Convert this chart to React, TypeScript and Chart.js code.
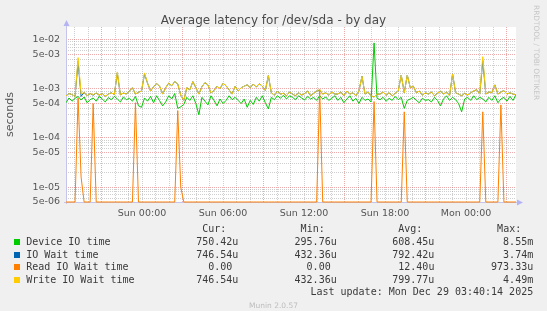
import React, { useEffect, useRef } from 'react';
import { Chart, registerables } from 'chart.js';

Chart.register(...registerables);

const TITLE = 'Average latency for /dev/sda - by day';
const Y_AXIS_TITLE = 'seconds';
const Y_MIN = 5e-6;
const Y_MAX = 1.8e-2;
// hours relative to Mon 00:00
const X_START_H = -29.63;
const X_END_H = 3.7;

const xTickHours = [-24, -18, -12, -6, 0];
const xTickLabels = ['Sun 00:00', 'Sun 06:00', 'Sun 12:00', 'Sun 18:00', 'Mon 00:00'];
const yLabelMantissas = [1, 5];

// values in microseconds
const deviceIOTime = [
  520, 650, 560, 640, 700, 590, 680, 520, 600, 650,
  560, 700, 620, 540, 660, 600, 700, 620, 540, 680,
  600, 640, 560, 700, 450, 420, 650, 560, 700, 520,
  720, 570, 450, 540, 720, 620, 800, 400, 430, 480,
  670, 580, 720, 500, 296, 670, 560, 470, 720, 580,
  450, 620, 500, 580, 720, 600, 670, 580, 500, 620,
  420, 580, 480, 670, 560, 720, 520, 390, 670, 600,
  720, 640, 740, 620, 720, 670, 600, 720, 650, 590,
  700, 620, 670, 580, 720, 620, 680, 580, 640, 720,
  580, 670, 520, 620, 720, 560, 640, 500, 670, 580,
  620, 540, 8550, 640, 600, 670, 560, 640, 580, 700,
  600, 670, 400, 580, 620, 670, 580, 520, 640, 580,
  600, 540, 670, 580, 450, 620, 720, 580, 670, 600,
  500, 340, 620, 670, 580, 720, 600, 670, 620, 540,
  670, 580, 720, 520, 620, 670, 560, 700, 580, 750,
];

const ioWaitTime = [
  720, 800, 760, 700, 3600, 700, 850, 720, 800, 740,
  820, 740, 800, 700, 780, 830, 760, 2100, 750, 820,
  780, 900, 1050, 780, 850, 900, 2000, 1300, 900, 1100,
  1270, 1130, 780, 1050, 1300, 1150, 1400, 1250, 740, 580,
  1050, 950, 1400, 1050, 780, 1100, 1330, 1200, 820, 920,
  1130, 1000, 1300, 1150, 950, 780, 1130, 900, 1050, 1130,
  1200, 1050, 1250, 1080, 1270, 1130, 920, 1850, 830, 740,
  900, 780, 810, 720, 860, 780, 720, 830, 740, 800,
  900, 720, 810, 900, 940, 780, 830, 740, 860, 780,
  780, 860, 720, 900, 780, 830, 720, 900, 1800, 780,
  860, 720, 680, 780, 780, 860, 740, 830, 720, 810,
  900, 1900, 830, 1900, 1050, 1130, 830, 900, 740, 830,
  780, 860, 720, 810, 900, 780, 860, 720, 2000, 830,
  780, 720, 810, 740, 830, 900, 960, 780, 3740, 780,
  860, 830, 1200, 780, 860, 920, 780, 830, 780, 747,
];

const readIOWaitTime = [
  0, 0, 0, 0, 650, 16, 0, 0, 0, 500,
  0, 0, 0, 0, 0, 0, 0, 0, 0, 0,
  0, 0, 0, 520, 0, 0, 0, 0, 0, 0,
  0, 0, 0, 0, 0, 0, 0, 360, 10, 0,
  0, 0, 0, 0, 0, 0, 0, 0, 0, 0,
  0, 0, 0, 0, 0, 0, 0, 0, 0, 0,
  0, 0, 0, 0, 0, 0, 0, 0, 0, 0,
  0, 0, 0, 0, 0, 0, 0, 0, 0, 0,
  0, 0, 0, 0, 973.33, 0, 0, 0, 0, 0,
  0, 0, 0, 0, 0, 0, 0, 0, 0, 0,
  0, 0, 550, 0, 0, 0, 0, 0, 0, 0,
  0, 0, 340, 0, 0, 0, 0, 0, 0, 0,
  0, 0, 0, 0, 0, 0, 0, 0, 0, 0,
  0, 0, 0, 0, 0, 0, 0, 0, 340, 0,
  0, 0, 0, 0, 470, 0, 0, 0, 0, 0,
];

const writeIOWaitTime = [
  720, 800, 760, 700, 4300, 780, 850, 720, 800, 760,
  820, 740, 800, 700, 780, 830, 760, 2200, 750, 820,
  780, 900, 1050, 780, 850, 900, 2100, 1300, 900, 1100,
  1270, 1130, 780, 1050, 1300, 1150, 1400, 1250, 740, 580,
  1050, 950, 1400, 1050, 780, 1100, 1330, 1200, 820, 920,
  1130, 1000, 1300, 1150, 950, 780, 1130, 900, 1050, 1130,
  1200, 1050, 1250, 1080, 1270, 1130, 920, 1850, 830, 740,
  900, 780, 810, 720, 860, 780, 720, 830, 740, 800,
  900, 720, 810, 900, 960, 780, 830, 740, 860, 780,
  780, 860, 720, 900, 780, 830, 720, 900, 1800, 780,
  860, 720, 680, 780, 780, 860, 740, 830, 720, 810,
  900, 1900, 830, 1900, 1050, 1130, 830, 900, 740, 830,
  780, 860, 720, 810, 900, 780, 860, 720, 2000, 830,
  780, 720, 810, 740, 830, 900, 960, 780, 4490, 780,
  860, 830, 1200, 780, 860, 920, 780, 830, 780, 747,
];

const seriesNames = ['Device IO time', 'IO Wait time', 'Read IO Wait time', 'Write IO Wait time'];
const seriesColors = ['#00cc00', '#0066b3', '#ff8000', '#ffcc00'];
const curValues = ['750.42u', '746.54u', '0.00 ', '746.54u'];
const minValues = ['295.76u', '432.36u', '0.00 ', '432.36u'];
const avgValues = ['608.45u', '792.42u', '12.40u', '799.77u'];
const maxValues = ['8.55m', '3.74m', '973.33u', '4.49m'];
const columnHeaders = ['Cur:', 'Min:', 'Avg:', 'Max:'];
const LAST_UPDATE = 'Last update: Mon Dec 29 03:40:14 2025';
const FOOTER = 'Munin 2.0.57';
const WATERMARK = 'RRDTOOL / TOBI OETIKER';

const MAJOR_GRID = 'rgba(215,70,70,0.45)';
const MINOR_GRID = 'rgba(140,140,140,0.42)';
const AXIS_COLOR = '#c4c4ec';
const ARROW_COLOR = '#b4b4f4';

function mantissaOf(v: number) {
  const e = Math.floor(Math.log10(v) + 1e-9);
  return { m: Math.round(v / Math.pow(10, e)), e };
}

const rrdPlugin = {
  id: 'rrdLook',
  beforeDraw(chart: any) {
    const { ctx, chartArea } = chart;
    const { left, top, right, bottom } = chartArea;
    ctx.save();
    ctx.fillStyle = '#ffffff';
    ctx.fillRect(left, top, right - left, bottom - top);
    ctx.restore();
  },
  beforeDatasetsDraw(chart: any) {
    const { ctx, chartArea } = chart;
    const { left, top, right, bottom } = chartArea;
    ctx.save();
    ctx.strokeStyle = AXIS_COLOR;
    ctx.lineWidth = 1;
    ctx.beginPath();
    ctx.moveTo(left + 0.5, top - 2);
    ctx.lineTo(left + 0.5, bottom + 2);
    ctx.moveTo(left - 2, bottom + 0.5);
    ctx.lineTo(right + 2, bottom + 0.5);
    ctx.stroke();
    ctx.restore();
  },
  afterDraw(chart: any) {
    const { ctx, chartArea } = chart;
    const { left, top, right, bottom } = chartArea;
    ctx.save();
    ctx.fillStyle = ARROW_COLOR;
    ctx.beginPath();
    ctx.moveTo(left + 0.5, top - 7);
    ctx.lineTo(left + 3.5, top - 1);
    ctx.lineTo(left - 2.5, top - 1);
    ctx.closePath();
    ctx.fill();
    ctx.beginPath();
    ctx.moveTo(right + 7, bottom + 0.5);
    ctx.lineTo(right + 1, bottom + 3.5);
    ctx.lineTo(right + 1, bottom - 2.5);
    ctx.closePath();
    ctx.fill();
    ctx.restore();
  },
};

export default function App() {
  const ref = useRef<HTMLCanvasElement>(null);

  useEffect(() => {
    const canvas = ref.current;
    if (!canvas) return;
    const n = deviceIOTime.length;
    const hours = deviceIOTime.map((_, i) => X_START_H + (i * (X_END_H - X_START_H)) / (n - 1));
    const toPts = (arr: number[]) =>
      arr.map((v, i) => ({ x: hours[i], y: v === 0 ? Y_MIN : v * 1e-6 }));
    const seriesData = [deviceIOTime, ioWaitTime, readIOWaitTime, writeIOWaitTime];
    const orders = [4, 3, 2, 1];

    const chart = new Chart(canvas, {
      type: 'line',
      data: {
        datasets: seriesData.map((arr, k) => ({
          label: seriesNames[k],
          data: toPts(arr),
          borderColor: seriesColors[k],
          backgroundColor: seriesColors[k],
          borderWidth: 1,
          pointRadius: 0,
          tension: 0,
          fill: false,
          order: orders[k],
          clip: { left: 0, top: 0, right: 0, bottom: 2 },
        })),
      },
      options: {
        responsive: false,
        animation: false,
        events: [],
        devicePixelRatio: 1,
        layout: { padding: { top: 27, right: 31, left: 0, bottom: 0 } },
        plugins: {
          legend: { display: false },
          tooltip: { enabled: false },
          title: { display: false },
        },
        scales: {
          x: {
            type: 'linear',
            min: X_START_H,
            max: X_END_H,
            afterBuildTicks: (scale: any) => {
              const t = [];
              for (let h = Math.ceil(X_START_H); h <= Math.floor(X_END_H); h++) t.push({ value: h });
              scale.ticks = t;
            },
            afterFit: (scale: any) => {
              scale.height = 109;
            },
            ticks: {
              autoSkip: false,
              maxRotation: 0,
              padding: 6,
              color: '#555',
              font: { family: 'DejaVu Sans', size: 9.5 },
              callback: (value: any) => {
                const idx = xTickHours.indexOf(Number(value));
                return idx >= 0 ? xTickLabels[idx] : '';
              },
            },
            grid: {
              drawTicks: false,
              lineWidth: 1,
              color: (ctx: any) => {
                const h = ctx.tick ? Math.round(ctx.tick.value) : 0;
                return (((h % 6) + 6) % 6) === 3 ? MAJOR_GRID : MINOR_GRID;
              },
            },
            border: { display: false, dash: [1, 1] },
          },
          y: {
            type: 'logarithmic',
            min: Y_MIN,
            max: Y_MAX,
            afterBuildTicks: (scale: any) => {
              const t = [];
              for (let e = -6; e <= -2; e++) {
                for (let m = 1; m <= 9; m++) {
                  const v = m * Math.pow(10, e);
                  if (v >= Y_MIN * 0.999 && v <= Y_MAX) t.push({ value: v });
                }
              }
              scale.ticks = t;
            },
            afterFit: (scale: any) => {
              scale.width = 66;
            },
            ticks: {
              autoSkip: false,
              padding: 6,
              color: '#555',
              font: { family: 'DejaVu Sans', size: 9.5 },
              callback: (value: any) => {
                const { m, e } = mantissaOf(Number(value));
                if (!yLabelMantissas.includes(m)) return '';
                return `${m}e-${String(-e).padStart(2, '0')}`;
              },
            },
            grid: {
              drawTicks: false,
              lineWidth: 1,
              color: (ctx: any) => {
                if (!ctx.tick) return MINOR_GRID;
                const { m } = mantissaOf(ctx.tick.value);
                return yLabelMantissas.includes(m) ? MAJOR_GRID : MINOR_GRID;
              },
            },
            border: { display: false, dash: [1, 1] },
            title: {
              display: true,
              text: Y_AXIS_TITLE,
              color: '#555',
              font: { family: 'DejaVu Sans', size: 11 },
              padding: { top: 4, bottom: 0 },
            },
          },
        },
      },
      plugins: [rrdPlugin],
    } as any);
    return () => chart.destroy();
  }, []);

  const mono = '10px "DejaVu Sans Mono"';
  const rowTops = [236.1, 248.7, 261.2, 273.8];
  const colRights = [238.3, 336.7, 434.4, 533.2];
  const colValues = [curValues, minValues, avgValues, maxValues];

  return (
    <div
      style={{
        position: 'absolute',
        left: 0,
        top: 0,
        width: 547,
        height: 311,
        background: '#f0f0f0',
        overflow: 'hidden',
        color: '#3a3a3a',
      }}
    >
      <canvas ref={ref} width={547} height={311} style={{ position: 'absolute', left: 0, top: 0 }} />
      <div
        style={{
          position: 'absolute',
          left: 0,
          width: 547,
          top: 13,
          textAlign: 'center',
          font: '12px "DejaVu Sans"',
          lineHeight: '14px',
          color: '#4a4a4a',
          whiteSpace: 'nowrap',
        }}
      >
        {TITLE}
      </div>
      <div
        style={{
          position: 'absolute',
          left: 532,
          top: 5,
          writingMode: 'vertical-rl',
          font: '7.4px "DejaVu Sans"',
          lineHeight: '8px',
          color: '#c6c6c6',
          whiteSpace: 'nowrap',
        }}
      >
        {WATERMARK}
      </div>
      {columnHeaders.map((h, c) => (
        <div
          key={'h' + c}
          style={{
            position: 'absolute',
            right: 547 - (colRights[c] - 12),
            top: 223.2,
            font: mono,
            lineHeight: '12px',
            whiteSpace: 'pre',
          }}
        >
          {h}
        </div>
      ))}
      {seriesNames.map((name, r) => (
        <React.Fragment key={name}>
          <div
            style={{
              position: 'absolute',
              left: 14,
              top: rowTops[r] + 3,
              width: 6,
              height: 6,
              background: seriesColors[r],
            }}
          />
          <div
            style={{
              position: 'absolute',
              left: 26.2,
              top: rowTops[r],
              font: mono,
              lineHeight: '12px',
              whiteSpace: 'pre',
            }}
          >
            {name}
          </div>
          {colValues.map((vals, c) => (
            <div
              key={c}
              style={{
                position: 'absolute',
                right: 547 - colRights[c],
                top: rowTops[r],
                font: mono,
                lineHeight: '12px',
                whiteSpace: 'pre',
              }}
            >
              {vals[r]}
            </div>
          ))}
        </React.Fragment>
      ))}
      <div
        style={{
          position: 'absolute',
          right: 547 - 533.2,
          top: 286.3,
          font: mono,
          lineHeight: '12px',
          whiteSpace: 'pre',
        }}
      >
        {LAST_UPDATE}
      </div>
      <div
        style={{
          position: 'absolute',
          left: 0,
          width: 547,
          top: 300.5,
          textAlign: 'center',
          font: '7.5px "DejaVu Sans"',
          lineHeight: '9px',
          color: '#bdbdbd',
          whiteSpace: 'nowrap',
        }}
      >
        {FOOTER}
      </div>
    </div>
  );
}
